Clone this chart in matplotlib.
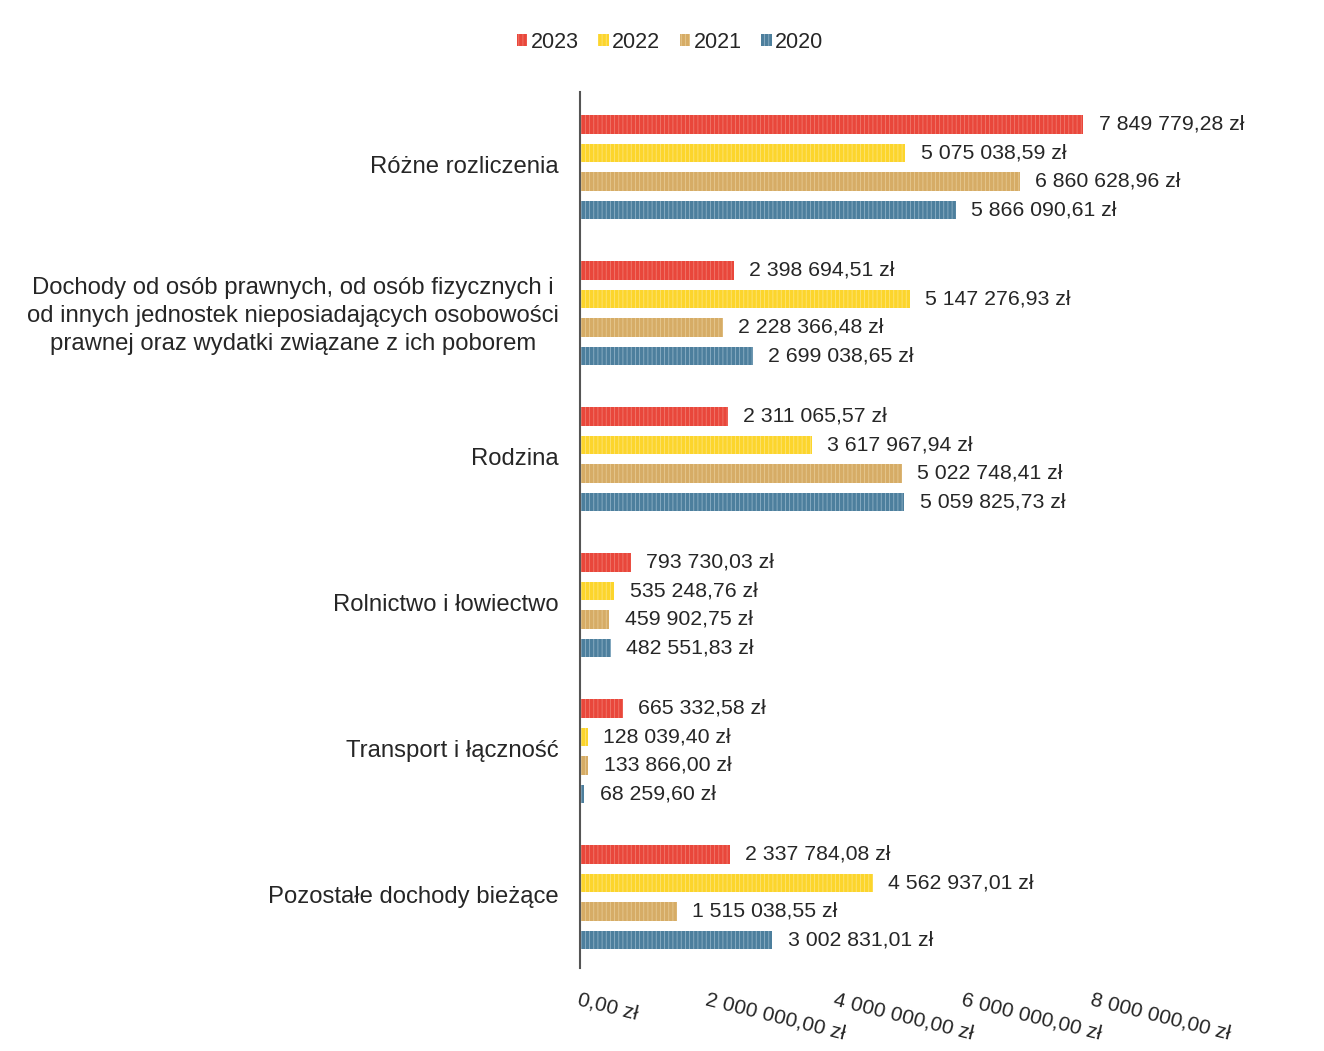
import numpy as np
import matplotlib.pyplot as plt

plt.rcParams['font.family'] = ['Liberation Sans', 'DejaVu Sans']
plt.rcParams['hatch.linewidth'] = 0.6

categories = [
    "Różne rozliczenia",
    "Dochody od osób prawnych, od osób fizycznych i\nod innych jednostek nieposiadających osobowości\nprawnej oraz wydatki związane z ich poborem",
    "Rodzina",
    "Rolnictwo i łowiectwo",
    "Transport i łączność",
    "Pozostałe dochody bieżące",
]
years = ["2023", "2022", "2021", "2020"]
v2023 = [7849779.28, 2398694.51, 2311065.57, 793730.03, 665332.58, 2337784.08]
v2022 = [5075038.59, 5147276.93, 3617967.94, 535248.76, 128039.40, 4562937.01]
v2021 = [6860628.96, 2228366.48, 5022748.41, 459902.75, 133866.00, 1515038.55]
v2020 = [5866090.61, 2699038.65, 5059825.73, 482551.83, 68259.60, 3002831.01]
series = [v2023, v2022, v2021, v2020]
colors = ["#E9473B", "#FCD52C", "#D6AC66", "#4D7F9D"]
hatch_colors = ["#F07A6E", "#FDE47A", "#E6C992", "#8FB1C6"]


def pln(v):
    s = f"{v:,.2f}".replace(",", " ").replace(".", ",")
    return s + " zł"


fig = plt.figure(figsize=(13.24, 10.51), dpi=100)
ax = fig.add_axes([0.438, 0.079, 0.3875, 0.8335])

y = np.arange(len(categories))
pitch = 0.195
h = 0.125
for i, (vals, c, hc, yr) in enumerate(zip(series, colors, hatch_colors, years)):
    pos = y + 0.015 + (i - 1.5) * pitch
    bars = ax.barh(pos, vals, height=h, color=c, edgecolor=hc, hatch='||||',
                   linewidth=0, label=yr)
    for b, v in zip(bars, vals):
        ax.annotate(pln(v), (b.get_width(), b.get_y() + b.get_height() / 2),
                    xytext=(11, 0), textcoords='offset points', va='center',
                    ha='left', fontsize=15.3, color='#262626')

ax.set_ylim(5.5, -0.5)
ax.set_xlim(0, 8000000)
ax.set_yticks(y)
ax.set_yticklabels(categories, fontsize=17.2, color='#262626',
                   multialignment='center', linespacing=1.35)
ax.tick_params(axis='y', length=0, pad=15)

ticks = [0, 2000000, 4000000, 6000000, 8000000]
ax.set_xticks(ticks)
ax.set_xticklabels([pln(t) for t in ticks], rotation=-14, ha='left', va='top',
                   rotation_mode='anchor', fontsize=15, color='#262626')
ax.tick_params(axis='x', length=0, pad=16)

for s in ['top', 'right', 'bottom']:
    ax.spines[s].set_visible(False)
ax.spines['left'].set_color('#555555')
ax.spines['left'].set_linewidth(1.5)

handles, labels = ax.get_legend_handles_labels()
fig.legend(handles, labels, loc='center', bbox_to_anchor=(0.506, 0.96), ncol=4,
           frameon=False, fontsize=15.5, handlelength=0.5, handleheight=0.5,
           handletextpad=0.15, columnspacing=0.9, labelcolor='#262626')

fig.savefig("out.png", dpi=100, facecolor='white')
